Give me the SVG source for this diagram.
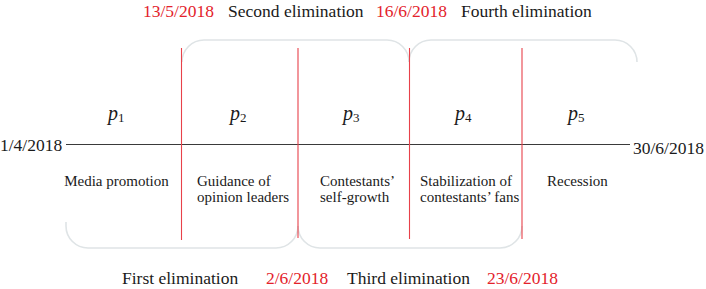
<svg xmlns="http://www.w3.org/2000/svg" width="706" height="289" viewBox="0 0 706 289">
<style>
text{font-family:"Liberation Serif","Times New Roman",serif;fill:#1a1a1a}
.t{font-size:17.5px}
.r{fill:#e3222b}
.l{font-size:15px}
.p{font-size:20px;font-style:italic}
.s{font-size:13px;font-style:normal}
.brace{fill:none;stroke:#dfe4e6;stroke-width:1.6}
.div{stroke:#e8414a;stroke-width:1.1}
.axis{stroke:#3a3a3a;stroke-width:1.1}
</style>
<rect width="706" height="289" fill="#fff"/>
<g id="connectors">
<path class="brace" d="M182,62 A22,22 0 0 1 204,40 L387,40 A22,22 0 0 1 409,62"/>
<path class="brace" d="M409,62 A22,22 0 0 1 431,40 L615,40 A22,22 0 0 1 637,62"/>
<path class="brace" d="M66,222 L66,226 A22,22 0 0 0 88,248 L276,248 A22,22 0 0 0 298,226"/>
<path class="brace" d="M298,226 A22,22 0 0 0 320,248 L500,248 A22,22 0 0 0 522,226"/>
<line class="axis" x1="66" y1="144.5" x2="630" y2="144.5"/>
<line class="div" x1="181.5" y1="48" x2="181.5" y2="240"/>
<line class="div" x1="298" y1="48" x2="298" y2="238"/>
<line class="div" x1="409.5" y1="48" x2="409.5" y2="239"/>
<line class="div" x1="522" y1="48" x2="522" y2="239"/>
</g>
<g id="top-labels">
<text class="t r" x="143" y="17">13/5/2018</text>
<text class="t" x="228" y="17">Second elimination</text>
<text class="t r" x="376" y="17">16/6/2018</text>
<text class="t" x="461" y="17">Fourth elimination</text>
</g>
<g id="bottom-labels">
<text class="t" x="122" y="284">First elimination</text>
<text class="t r" x="266" y="284">2/6/2018</text>
<text class="t" x="347" y="284">Third elimination</text>
<text class="t r" x="487" y="284">23/6/2018</text>
</g>
<g id="start"><text class="t" x="0" y="151">1/4/2018</text></g>
<g id="end"><text class="t" x="633" y="154">30/6/2018</text></g>
<g id="p1">
<text class="p" x="108" y="120">p<tspan class="s" dy="2">1</tspan></text>
<text class="l" x="116.5" y="186" text-anchor="middle">Media promotion</text>
</g>
<g id="p2">
<text class="p" x="230" y="120">p<tspan class="s" dy="2">2</tspan></text>
<text class="l" x="197" y="186">Guidance of</text>
<text class="l" x="197" y="202">opinion leaders</text>
</g>
<g id="p3">
<text class="p" x="343" y="120">p<tspan class="s" dy="2">3</tspan></text>
<text class="l" x="320" y="186">Contestants’</text>
<text class="l" x="320" y="202">self-growth</text>
</g>
<g id="p4">
<text class="p" x="455" y="120">p<tspan class="s" dy="2">4</tspan></text>
<text class="l" x="420" y="186">Stabilization of</text>
<text class="l" x="420" y="202">contestants’ fans</text>
</g>
<g id="p5">
<text class="p" x="568" y="120">p<tspan class="s" dy="2">5</tspan></text>
<text class="l" x="547" y="186">Recession</text>
</g>
</svg>
